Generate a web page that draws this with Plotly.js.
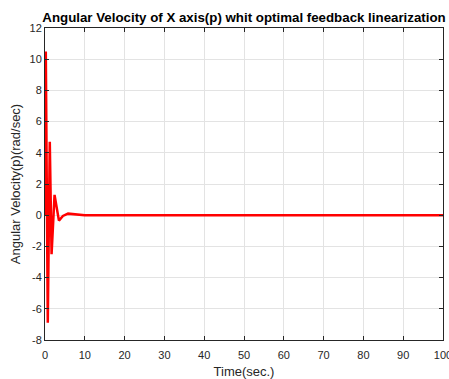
<!DOCTYPE html>
<html>
<head>
<meta charset="utf-8">
<script src="https://cdn.plot.ly/plotly-3.0.1.min.js"></script>
<style>html,body{margin:0;padding:0;background:#fff;}#chart{width:449px;height:379px;}</style>
</head>
<body>
<div id="chart"></div>
<script>
const timeSec = [0, 0.2, 0.7, 1.2, 1.65, 2.4, 3.5, 4.5, 5.8, 7.5, 10, 15, 100];
const angularVelocity = [0, 10.5, -6.9, 4.7, -2.5, 1.3, -0.35, -0.05, 0.1, 0.05, 0, 0, 0];
const xTickValues = [0, 10, 20, 30, 40, 50, 60, 70, 80, 90, 100];
const xTickLabels = ["0", "10", "20", "30", "40", "50", "60", "70", "80", "90", "100"];
const yTickValues = [-8, -6, -4, -2, 0, 2, 4, 6, 8, 10, 12];
const yTickLabels = ["-8", "-6", "-4", "-2", "0", "2", "4", "6", "8", "10", "12"];
const titleText = "Angular Velocity of X axis(p) whit optimal feedback linearization";
const xLabel = "Time(sec.)";
const yLabel = "Angular Velocity(p)(rad/sec)";

const FONT = 'Liberation Sans, Arial, sans-serif';
const axisCommon = {
  showline: true, mirror: 'ticks', linecolor: '#262626', linewidth: 1,
  ticks: 'inside', ticklen: 4, tickcolor: '#262626',
  showgrid: true, gridcolor: '#e3e3e3', gridwidth: 1,
  zeroline: false, tickmode: 'array', ticklabeloverflow: 'allow',
  tickfont: {family: FONT, size: 11, color: '#262626'}
};

Plotly.newPlot('chart', [{
  x: timeSec, y: angularVelocity, type: 'scatter', mode: 'lines',
  line: {color: '#ff0000', width: 2.5}, cliponaxis: true
}], {
  width: 449, height: 379,
  margin: {l: 45, r: 6, t: 28, b: 39},
  paper_bgcolor: '#ffffff', plot_bgcolor: '#ffffff',
  showlegend: false,
  title: {text: titleText, font: {family: FONT, size: 13.3, color: '#000', weight: 'bold'},
    x: 0.5, xref: 'paper', xanchor: 'center', y: 1 - 17/379, yref: 'container', yanchor: 'middle'},
  xaxis: Object.assign({}, axisCommon, {range: [0, 100], tickvals: xTickValues, ticktext: xTickLabels,
    ticklabelstandoff: 5,
    title: {text: xLabel, standoff: 8, font: {family: FONT, size: 13, color: '#262626'}}}),
  yaxis: Object.assign({}, axisCommon, {range: [-8, 12], tickvals: yTickValues, ticktext: yTickLabels,
    title: {text: yLabel, standoff: 5, font: {family: FONT, size: 13, color: '#262626'}}})
}, {displayModeBar: false, staticPlot: true});
</script>
</body>
</html>
